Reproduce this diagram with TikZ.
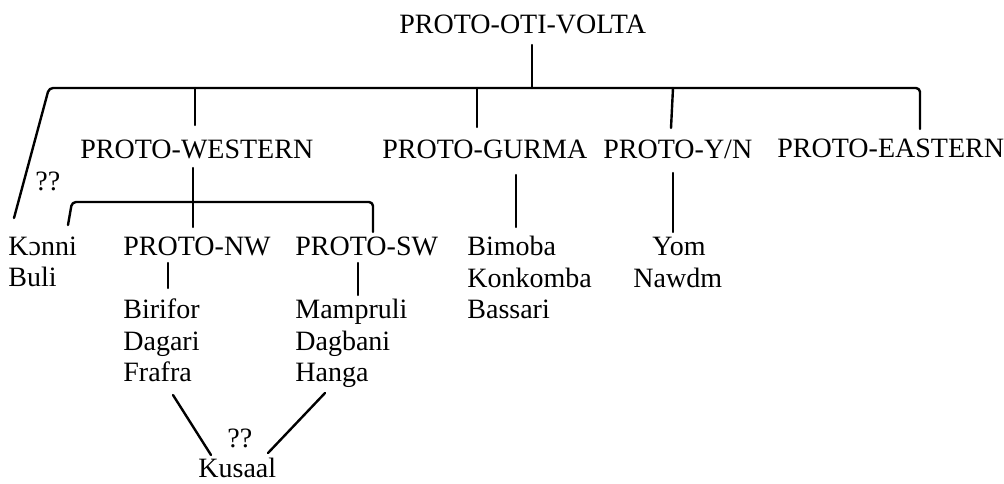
\documentclass[tikz,border=0pt]{standalone}
\usepackage{fontspec}
\setmainfont{Liberation Serif}
\begin{document}
\begin{tikzpicture}[x=0.5pt,y=-0.5pt,
  lbl/.style={anchor=base west, inner sep=0pt, font=\fontsize{14}{16}\selectfont},
  ln/.style={line width=1.2pt, line cap=round, line join=round}]
\useasboundingbox (0,0) rectangle (1004,483);
% labels
\node[lbl] (oti) at (399,33) {PROTO-OTI-VOLTA};
\node[lbl] (west) at (80,158) {PROTO-WESTERN};
\node[lbl] (gurma) at (382,158) {PROTO-GURMA};
\node[lbl] (yn) at (603,158) {PROTO-Y/N};
\node[lbl] (east) at (777,157) {PROTO-EASTERN};
\node[lbl] (q1) at (35,190) {??};
\node[lbl] (konni) at (8,255) {Kɔnni};
\node[lbl] (buli) at (8,286) {Buli};
\node[lbl] (nw) at (123,255) {PROTO-NW};
\node[lbl] (sw) at (295,255) {PROTO-SW};
\node[lbl] (bimoba) at (467,255) {Bimoba};
\node[lbl] (konkomba) at (467,287) {Konkomba};
\node[lbl] (bassari) at (467,318) {Bassari};
\node[lbl] (yom) at (652,255) {Yom};
\node[lbl] (nawdm) at (633,287) {Nawdm};
\node[lbl] (birifor) at (123,318) {Birifor};
\node[lbl] (dagari) at (123,350) {Dagari};
\node[lbl] (frafra) at (123,381) {Frafra};
\node[lbl] (mampruli) at (295,318) {Mampruli};
\node[lbl] (dagbani) at (295,350) {Dagbani};
\node[lbl] (hanga) at (295,381) {Hanga};
\node[lbl] (q2) at (227,447) {??};
\node[lbl] (kusaal) at (198,477) {Kusaal};
% junction coordinates
\coordinate (otiB) at (532,45);
\coordinate (j0) at (532,88);
\coordinate (hL) at (49,88);
\coordinate (hR) at (920,88);
\coordinate (konniT) at (14,218);
\coordinate (j1a) at (195,88);
\coordinate (j1b) at (477,88);
\coordinate (j1c) at (673,88);
\coordinate (westT) at (195,125);
\coordinate (gurmaT) at (477,127);
\coordinate (ynT) at (671,128);
\coordinate (eastT) at (920,129);
\coordinate (westB) at (193,168);
\coordinate (h2L) at (72,202);
\coordinate (h2R) at (373,202);
\coordinate (konniT2) at (68,225);
\coordinate (nwT) at (193,227);
\coordinate (swT) at (373,232);
\coordinate (nwB) at (168,263);
\coordinate (birT) at (168,288);
\coordinate (swB) at (358,263);
\coordinate (mamT) at (358,295);
\coordinate (gB) at (516,175);
\coordinate (bimT) at (516,227);
\coordinate (ynB) at (673,173);
\coordinate (yomT) at (673,232);
\coordinate (fraB) at (173,395);
\coordinate (kusL) at (211,455);
\coordinate (hanB) at (325,393);
\coordinate (kusR) at (268,453);
% connectors
\draw[ln] (otiB) -- (j0);
\draw[ln, rounded corners=2pt] (konniT) -- (hL) -- (hR) -- (eastT);
\draw[ln] (j1a) -- (westT);
\draw[ln] (j1b) -- (gurmaT);
\draw[ln] (j1c) -- (ynT);
\draw[ln] (westB) -- (nwT);
\draw[ln, rounded corners=2pt] (konniT2) -- (h2L) -- (h2R) -- (swT);
\draw[ln] (nwB) -- (birT);
\draw[ln] (swB) -- (mamT);
\draw[ln] (gB) -- (bimT);
\draw[ln] (ynB) -- (yomT);
\draw[ln] (fraB) -- (kusL);
\draw[ln] (hanB) -- (kusR);
\end{tikzpicture}
\end{document}
